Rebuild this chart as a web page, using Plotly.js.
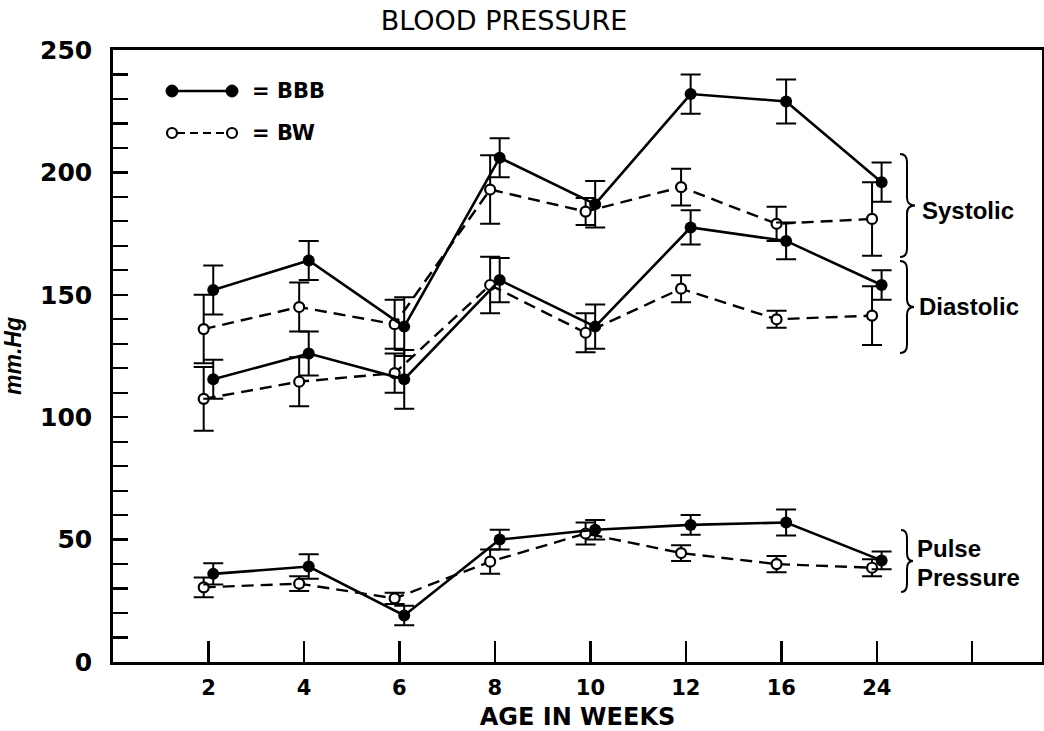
<!DOCTYPE html>
<html>
<head>
<meta charset="utf-8">
<script src="https://cdn.plot.ly/plotly-3.0.1.min.js"></script>
<style>html,body{margin:0;padding:0;background:#fff;}#chart{width:1044px;height:731px;}</style>
</head>
<body>
<div id="chart"></div>
<script>
// ---- data (mm Hg) ----
const weeks = ["2", "4", "6", "8", "10", "12", "16", "24"];

const systolicBBB    = [152, 164, 137, 206, 187, 232, 229, 196];
const systolicBBBErr = [10, 8, 12, 8, 9.5, 8, 9, 8];
const systolicBW     = [136, 145, 138, 193, 184, 194, 179, 181];
const systolicBWErr  = [14, 10, 10, 14, 5.5, 7.5, 7, 15];

const diastolicBBB    = [115.5, 126, 115.5, 156, 137, 177.5, 172, 154];
const diastolicBBBErr = [8, 9, 12, 9, 9, 7, 7.5, 6];
const diastolicBW     = [107.5, 114.5, 118, 154, 134.5, 152.5, 140, 141.5];
const diastolicBWErr  = [13, 10, 8, 11.5, 8, 5.5, 3.5, 12];

const pulseBBB    = [36, 39, 19, 50, 54, 56, 57, 41.5];
const pulseBBBErr = [4.3, 5, 4, 4, 4, 4, 5.3, 3.6];
const pulseBW     = [30.5, 32, 26, 41, 52.5, 44.5, 40, 38.5];
const pulseBWErr  = [4, 3, 2.3, 5, 4.5, 3.2, 3.3, 3.5];

const groupLabels = ["Systolic", "Diastolic", "Pulse", "Pressure"];
const seriesNames = ["BBB", "BW"];

// ---- layout geometry ----
const W = 1044, H = 731;
const M = {l: 113, r: 2, t: 50, b: 69};
const plotW = W - M.l - M.r, plotH = H - M.t - M.b;
const px = x => (x - M.l) / plotW;          // page px -> paper x
const py = y => (H - M.b - y) / plotH;      // page px -> paper y

const xpos = weeks.map((w, i) => i + 1);
const tickVals = xpos.concat([weeks.length + 1]);
const tickText = weeks.concat([""]);

function bbbTrace(y, err, name) {
  return {
    type: "scatter", mode: "lines+markers", name: name,
    x: xpos, y: y, offsetgroup: "BBB",
    line: {color: "#000", width: 2.6},
    marker: {color: "#000", size: 12},
    error_y: {type: "data", array: err, visible: true, color: "#000", thickness: 2, width: 10},
    showlegend: false, cliponaxis: false
  };
}
function bwTrace(y, err, name) {
  return {
    type: "scatter", mode: "lines+markers", name: name,
    x: xpos, y: y, offsetgroup: "BW",
    line: {color: "#000", width: 2.4, dash: "12px,7px"},
    marker: {color: "#fff", size: 10, line: {color: "#000", width: 2.2}},
    error_y: {type: "data", array: err, visible: true, color: "#000", thickness: 2, width: 10},
    showlegend: false, cliponaxis: false
  };
}

const data = [
  bwTrace(systolicBW, systolicBWErr, "Systolic BW"),
  bwTrace(diastolicBW, diastolicBWErr, "Diastolic BW"),
  bwTrace(pulseBW, pulseBWErr, "Pulse pressure BW"),
  bbbTrace(systolicBBB, systolicBBBErr, "Systolic BBB"),
  bbbTrace(diastolicBBB, diastolicBBBErr, "Diastolic BBB"),
  bbbTrace(pulseBBB, pulseBBBErr, "Pulse pressure BBB")
];

function brace(top, bot, xl, xs, xt) {
  const r = 8, mid = (top + bot) / 2;
  const P = (x, y) => px(x).toFixed(5) + "," + py(y).toFixed(5);
  return "M " + P(xl, top) + " Q " + P(xs, top) + " " + P(xs, top + r) +
         " L " + P(xs, mid - r) + " Q " + P(xs, mid) + " " + P(xt, mid) +
         " Q " + P(xs, mid) + " " + P(xs, mid + r) +
         " L " + P(xs, bot - r) + " Q " + P(xs, bot) + " " + P(xl, bot);
}

const labelFont = {family: "Liberation Sans, Arial, sans-serif", size: 24, color: "#000", weight: "bold"};
const legFont = {family: "DejaVu Sans", size: 21, color: "#000", weight: "bold"};

const shapes = [
  {type: "path", xref: "paper", yref: "paper", path: brace(154, 257, 900, 907, 915), line: {color: "#000", width: 2}},
  {type: "path", xref: "paper", yref: "paper", path: brace(261, 353, 900, 907, 914), line: {color: "#000", width: 2}},
  {type: "path", xref: "paper", yref: "paper", path: brace(530, 592, 901, 907, 913), line: {color: "#000", width: 2}},
  // legend samples
  {type: "line", xref: "paper", yref: "paper", x0: px(172), x1: px(232), y0: py(91), y1: py(91), line: {color: "#000", width: 2.6}},
  {type: "circle", xref: "paper", yref: "paper", xsizemode: "pixel", ysizemode: "pixel",
   xanchor: px(172), yanchor: py(91), x0: -6, x1: 6, y0: -6, y1: 6, fillcolor: "#000", line: {color: "#000", width: 1}},
  {type: "circle", xref: "paper", yref: "paper", xsizemode: "pixel", ysizemode: "pixel",
   xanchor: px(232), yanchor: py(91), x0: -6, x1: 6, y0: -6, y1: 6, fillcolor: "#000", line: {color: "#000", width: 1}},
  {type: "line", xref: "paper", yref: "paper", x0: px(177), x1: px(227), y0: py(133), y1: py(133), line: {color: "#000", width: 2.2, dash: "8px,5px"}},
  {type: "circle", xref: "paper", yref: "paper", xsizemode: "pixel", ysizemode: "pixel",
   xanchor: px(172), yanchor: py(133), x0: -5, x1: 5, y0: -5, y1: 5, fillcolor: "#fff", line: {color: "#000", width: 2.2}},
  {type: "circle", xref: "paper", yref: "paper", xsizemode: "pixel", ysizemode: "pixel",
   xanchor: px(232), yanchor: py(133), x0: -5, x1: 5, y0: -5, y1: 5, fillcolor: "#fff", line: {color: "#000", width: 2.2}}
];

const annotations = [
  {xref: "paper", yref: "paper", x: px(250), y: py(91), xanchor: "left", yanchor: "middle", text: "= " + seriesNames[0], showarrow: false, font: legFont},
  {xref: "paper", yref: "paper", x: px(250), y: py(133), xanchor: "left", yanchor: "middle", text: "= " + seriesNames[1], showarrow: false, font: legFont},
  {xref: "paper", yref: "paper", x: px(920), y: py(211), xanchor: "left", yanchor: "middle", text: groupLabels[0], showarrow: false, font: labelFont},
  {xref: "paper", yref: "paper", x: px(917), y: py(307), xanchor: "left", yanchor: "middle", text: groupLabels[1], showarrow: false, font: labelFont},
  {xref: "paper", yref: "paper", x: px(915), y: py(548), xanchor: "left", yanchor: "middle", text: groupLabels[2], showarrow: false, font: labelFont},
  {xref: "paper", yref: "paper", x: px(915), y: py(577), xanchor: "left", yanchor: "middle", text: groupLabels[3], showarrow: false, font: labelFont}
];

const layout = {
  width: W, height: H,
  margin: M,
  paper_bgcolor: "#fff", plot_bgcolor: "#fff",
  showlegend: false,
  scattermode: "group", scattergap: 0.8,
  title: {text: "BLOOD PRESSURE", xref: "container", yref: "container", x: 504 / W, y: 1 - 21 / H,
          xanchor: "center", yanchor: "middle", font: {family: "DejaVu Sans", size: 27, color: "#000"}},
  xaxis: {
    range: [0, 9.73], showgrid: false, zeroline: false,
    showline: true, linecolor: "#000", linewidth: 2.6, mirror: true,
    tickmode: "array", tickvals: tickVals, ticktext: tickText,
    ticks: "inside", ticklen: 21, tickwidth: 2.4, tickcolor: "#000",
    ticklabelstandoff: 5,
    tickfont: {family: "DejaVu Sans", size: 21, color: "#000", weight: "bold"},
    title: {text: "AGE IN WEEKS", standoff: 12, font: {family: "DejaVu Sans", size: 24, color: "#000", weight: "bold"}},
    fixedrange: true
  },
  yaxis: {
    range: [0, 250], showgrid: false, zeroline: false,
    showline: true, linecolor: "#000", linewidth: 2.8, mirror: true,
    tickmode: "linear", tick0: 0, dtick: 50,
    ticks: "inside", ticklen: 15, tickwidth: 2.2, tickcolor: "#000",
    minor: {dtick: 10, ticks: "inside", ticklen: 15, tickwidth: 2.2, tickcolor: "#000", showgrid: false},
    ticklabelstandoff: 13,
    tickfont: {family: "DejaVu Sans", size: 25, color: "#000", weight: "bold"},
    title: {text: "mm.Hg", standoff: 16, font: {family: "Liberation Sans, Arial, sans-serif", size: 23, color: "#000", weight: "bold", style: "italic"}},
    fixedrange: true
  },
  shapes: shapes,
  annotations: annotations
};

Plotly.newPlot("chart", data, layout, {displayModeBar: false, staticPlot: true});
</script>
</body>
</html>
